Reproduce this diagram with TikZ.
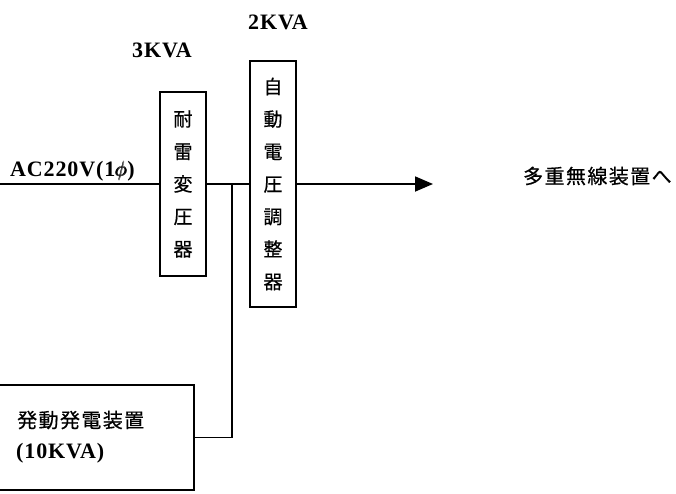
\documentclass[tikz,border=0pt]{standalone}
\usepackage{amsmath}
\usepackage{fontspec}
\setmainfont[LetterSpace=4]{Liberation Serif}
\newfontfamily\cjk[LetterSpace=7,FakeBold=0.6]{Noto Sans CJK JP}
\newfontfamily\cjkv[FakeBold=0.6]{Noto Sans CJK JP}
\usetikzlibrary{arrows.meta}
\begin{document}
\begin{tikzpicture}[x=1pt,y=-1pt,
  wire/.style={line width=1.8pt},
  boxv/.style={draw,line width=1.8pt,minimum width=46pt,inner sep=0pt,align=center,
    font=\cjkv\fontsize{19}{32.5}\selectfont},
  lat/.style={font=\bfseries\fontsize{22}{24}\selectfont,inner sep=0pt},
  jp/.style={font=\cjk\fontsize{20}{22}\selectfont,inner sep=0pt}]
\useasboundingbox (0,0) rectangle (676,493);
\node[boxv,minimum height=184pt] (b1) at (183,184) {耐\\雷\\変\\圧\\器};
\node[boxv,minimum height=246pt] (b2) at (273,184) {自\\動\\電\\圧\\調\\整\\器};
\node[minimum width=214pt,minimum height=105pt,inner sep=0pt] (gen) at (87,437.5) {};
\draw[wire] (gen.north west) -- (gen.north east) -- (gen.south east) -- (gen.south west);
\node[jp,anchor=west] (g1) at (17,420) {発動発電装置};
\node[lat,anchor=west] (g2) at (16,453) {(10KVA)};
\node[lat] (l3) at (162,50) {3KVA};
\node[lat] (l2) at (278,22) {2KVA};
\node[lat,anchor=west] (ac) at (10,171) {AC220V(1$\pmb{\phi}$)};
\node[jp,anchor=west] (dst) at (523,176) {多重無線装置へ};
\coordinate (in) at (0,184);
\coordinate (out) at (433,184);
\coordinate (j) at (232,184);
\draw[wire] (in) -- (b1.west |- in);
\draw[wire] (b1.east |- in) -- (b2.west |- in);
\draw[wire,-{Triangle[length=18pt,width=15pt]}] (b2.east |- in) -- (out);
\draw[wire] (j) |- (gen.east);
\end{tikzpicture}
\end{document}
